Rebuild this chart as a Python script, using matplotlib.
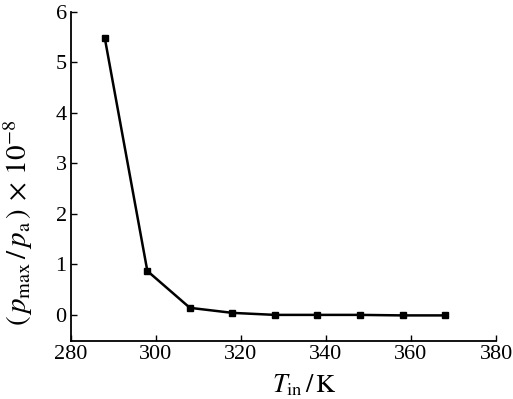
import matplotlib
matplotlib.use("Agg")
import matplotlib.pyplot as plt

# 数据
T_in = [288, 298, 308, 318, 328, 338, 348, 358, 368]
p_ratio = [5.48, 0.87, 0.14, 0.04, 0.0, 0.0, 0.0, -0.01, -0.01]

x_ticks = [280, 300, 320, 340, 360, 380]
y_ticks = [0, 1, 2, 3, 4, 5, 6]

plt.rcParams['font.family'] = ['Liberation Serif', 'DejaVu Serif']
plt.rcParams['mathtext.fontset'] = 'stix'

fig = plt.figure(figsize=(5.13, 3.99), dpi=100)
ax = fig.add_axes([0.138, 0.145, 0.829, 0.825])

ax.plot(T_in, p_ratio, color='black', linewidth=1.8, marker='s', markersize=4.5)

ax.set_xlim(280, 380)
ax.set_ylim(-0.52, 6)
ax.set_xticks(x_ticks)
ax.set_yticks(y_ticks)
ax.tick_params(direction='in', length=4, width=1, labelsize=16, pad=3)

for side in ['top', 'right']:
    ax.spines[side].set_visible(False)
for side in ['left', 'bottom']:
    ax.spines[side].set_linewidth(1.3)

ax.set_xlabel(r'$T_{\rm in}\,/\,\mathrm{K}$', fontsize=19)
ax.xaxis.set_label_coords(0.55, -0.095)
ax.set_ylabel(r'$(\,p_{\max}\,/\,p_{\rm a}\,)\,\times\,10^{-8}$', fontsize=21)
ax.yaxis.set_label_coords(-0.085, 0.36)

fig.savefig('out.png', dpi=100)
